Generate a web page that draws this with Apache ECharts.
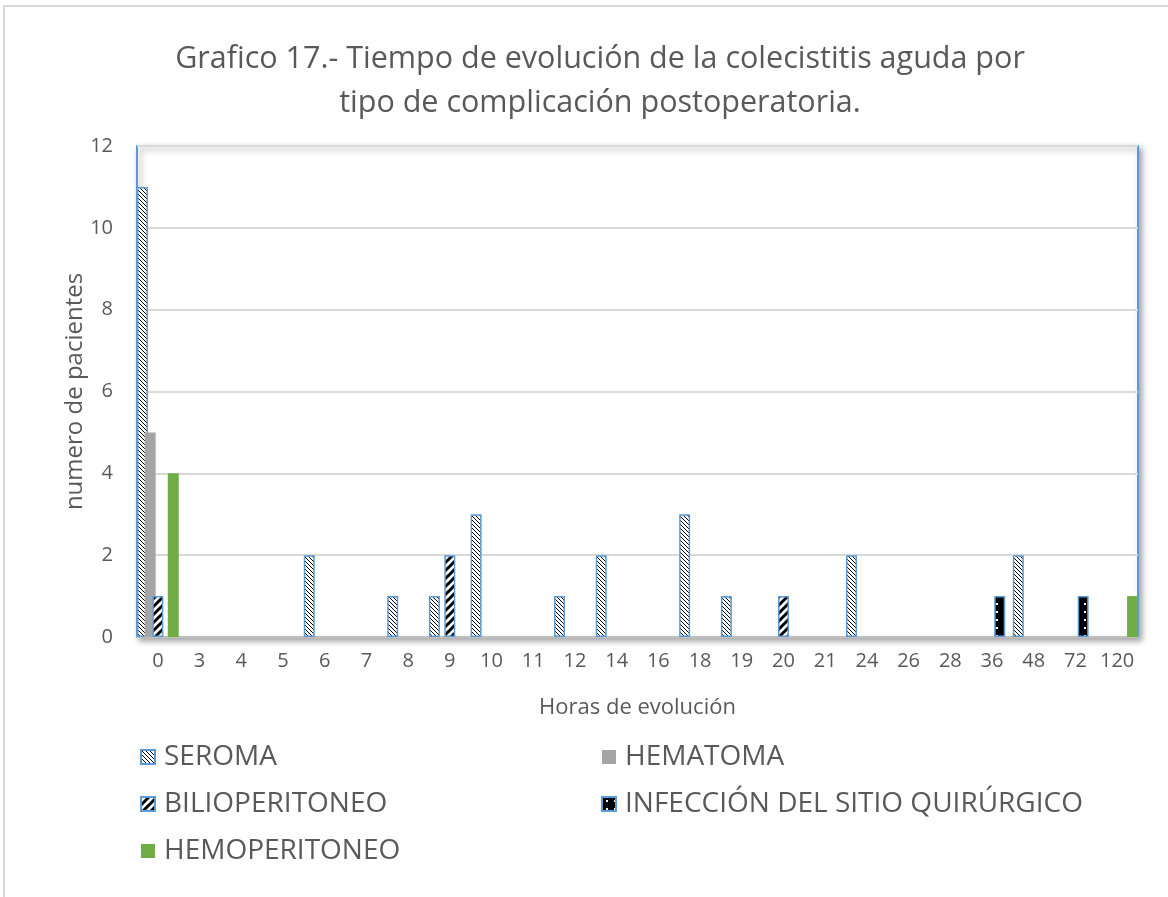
<!DOCTYPE html>
<html>
<head>
<meta charset="utf-8">
<script src="https://cdn.jsdelivr.net/npm/echarts@6/dist/echarts.min.js"></script>
<style>
  html, body { margin: 0; padding: 0; background: #fff; }
  #chart { width: 1168px; height: 897px; }
</style>
</head>
<body>
<div id="chart"></div>
<script>
const categories = ["0", "3", "4", "5", "6", "7", "8", "9", "10", "11", "12", "14",
  "16", "18", "19", "20", "21", "24", "26", "28", "36", "48", "72", "120"];
const seroma =        [11, 0, 0, 0, 2, 0, 1, 1, 3, 0, 1, 2, 0, 3, 1, 0, 0, 2, 0, 0, 0, 2, 0, 0];
const hematoma =      [5, 0, 0, 0, 0, 0, 0, 0, 0, 0, 0, 0, 0, 0, 0, 0, 0, 0, 0, 0, 0, 0, 0, 0];
const bilioperitoneo = [1, 0, 0, 0, 0, 0, 0, 2, 0, 0, 0, 0, 0, 0, 0, 1, 0, 0, 0, 0, 0, 0, 0, 0];
const infeccion =     [0, 0, 0, 0, 0, 0, 0, 0, 0, 0, 0, 0, 0, 0, 0, 0, 0, 0, 0, 0, 1, 0, 1, 0];
const hemoperitoneo = [4, 0, 0, 0, 0, 0, 0, 0, 0, 0, 0, 0, 0, 0, 0, 0, 0, 0, 0, 0, 0, 0, 0, 1];
const yTicks = [0, 2, 4, 6, 8, 10, 12];

const textColor = "#595959";
const font = "'Open Sans', 'Noto Sans', sans-serif";

// little canvas patterns for the hatched bars
function makePattern(w, h, draw) {
  const c = document.createElement("canvas");
  c.width = w;
  c.height = h;
  const ctx = c.getContext("2d");
  draw(ctx);
  return { image: c, repeat: "repeat" };
}
const seromaFill = makePattern(4, 4, ctx => {
  ctx.fillStyle = "#fff";
  ctx.fillRect(0, 0, 4, 4);
  ctx.fillStyle = "#000";
  for (let i = 0; i < 4; i++) ctx.fillRect(i, i, 1, 1);
});
const bilioFill = makePattern(8, 8, ctx => {
  ctx.fillStyle = "#fff";
  ctx.fillRect(0, 0, 8, 8);
  ctx.strokeStyle = "#000";
  ctx.lineWidth = 3;
  ctx.beginPath();
  ctx.moveTo(-2, 10); ctx.lineTo(10, -2);
  ctx.moveTo(-6, 6); ctx.lineTo(6, -6);
  ctx.moveTo(2, 14); ctx.lineTo(14, 2);
  ctx.stroke();
});
const infeccionFill = makePattern(8, 16, ctx => {
  ctx.fillStyle = "#000";
  ctx.fillRect(0, 0, 8, 16);
  ctx.fillStyle = "#fff";
  ctx.fillRect(4, 3, 2, 2);
  ctx.fillRect(4, 11, 2, 2);
});

const blue = "#5B9BD5";
const clean = arr => arr.map(v => (v === 0 ? null : v));

function bar(name, data, itemStyle) {
  return {
    name: name,
    type: "bar",
    data: clean(data),
    barWidth: 11,
    barGap: "-30%",
    barCategoryGap: 0,
    itemStyle: itemStyle
  };
}

const legendText = { fontSize: 28, color: textColor, fontFamily: font, padding: [0, 0, 0, 4] };

const chart = echarts.init(document.getElementById("chart"));
chart.setOption({
  animation: false,
  backgroundColor: "#fff",
  textStyle: { fontFamily: font },
  title: {
    text: "Grafico 17.- Tiempo de evolución de la colecistitis aguda por\ntipo de complicación postoperatoria.",
    left: 595,
    top: 32,
    textAlign: "center",
    textStyle: { fontSize: 30.5, fontWeight: "normal", color: textColor, lineHeight: 44, fontFamily: font }
  },
  graphic: [
    {
      type: "rect",
      shape: { x: 4, y: 6, width: 1200, height: 1000 },
      style: { fill: "none", stroke: "#d9d9d9", lineWidth: 2 },
      silent: true,
      z: -10
    }
  ],
  legend: [
    {
      left: 140, top: 743, orient: "vertical", itemGap: 19, padding: 0,
      itemWidth: 14, itemHeight: 14, icon: "rect",
      data: ["SEROMA", "BILIOPERITONEO", "HEMOPERITONEO"],
      textStyle: legendText
    },
    {
      left: 601, top: 743, orient: "vertical", itemGap: 19, padding: 0,
      itemWidth: 14, itemHeight: 14, icon: "rect",
      data: ["HEMATOMA", "INFECCIÓN DEL SITIO QUIRÚRGICO"],
      textStyle: legendText
    }
  ],
  grid: {
    left: 137, right: 30, top: 146, bottom: 260,
    show: true,
    backgroundColor: "#fff",
    borderColor: blue,
    borderWidth: 2,
    shadowColor: "rgba(0,0,0,0.35)",
    shadowBlur: 6,
    shadowOffsetX: 3,
    shadowOffsetY: 3
  },
  xAxis: {
    type: "category",
    data: categories,
    name: "Horas de evolución",
    nameLocation: "middle",
    nameGap: 60,
    nameTextStyle: { fontSize: 22, color: textColor },
    axisLine: { lineStyle: { color: "#BFBFBF", width: 2 } },
    axisTick: { show: false },
    axisLabel: { fontSize: 20, color: textColor, margin: 14, interval: 0 }
  },
  yAxis: {
    type: "value",
    min: 0, max: 12, interval: 2,
    name: "numero de pacientes",
    nameLocation: "middle",
    nameGap: 50,
    nameMoveOverlap: false,
    nameTextStyle: { fontSize: 24, color: textColor },
    axisLine: { show: false },
    axisTick: { show: false },
    axisLabel: {
      fontSize: 20, color: textColor, margin: 24,
      formatter: v => (yTicks.includes(v) ? String(v) : "")
    },
    splitLine: { lineStyle: { color: "#d9d9d9", width: 2 } }
  },
  series: [
    bar("SEROMA", seroma, { color: seromaFill, borderColor: blue, borderWidth: 1.5 }),
    bar("HEMATOMA", hematoma, { color: "#A5A5A5" }),
    bar("BILIOPERITONEO", bilioperitoneo, { color: bilioFill, borderColor: blue, borderWidth: 1.5 }),
    bar("INFECCIÓN DEL SITIO QUIRÚRGICO", infeccion, { color: infeccionFill, borderColor: blue, borderWidth: 1.5 }),
    bar("HEMOPERITONEO", hemoperitoneo, { color: "#70AD47" })
  ]
});
</script>
</body>
</html>
